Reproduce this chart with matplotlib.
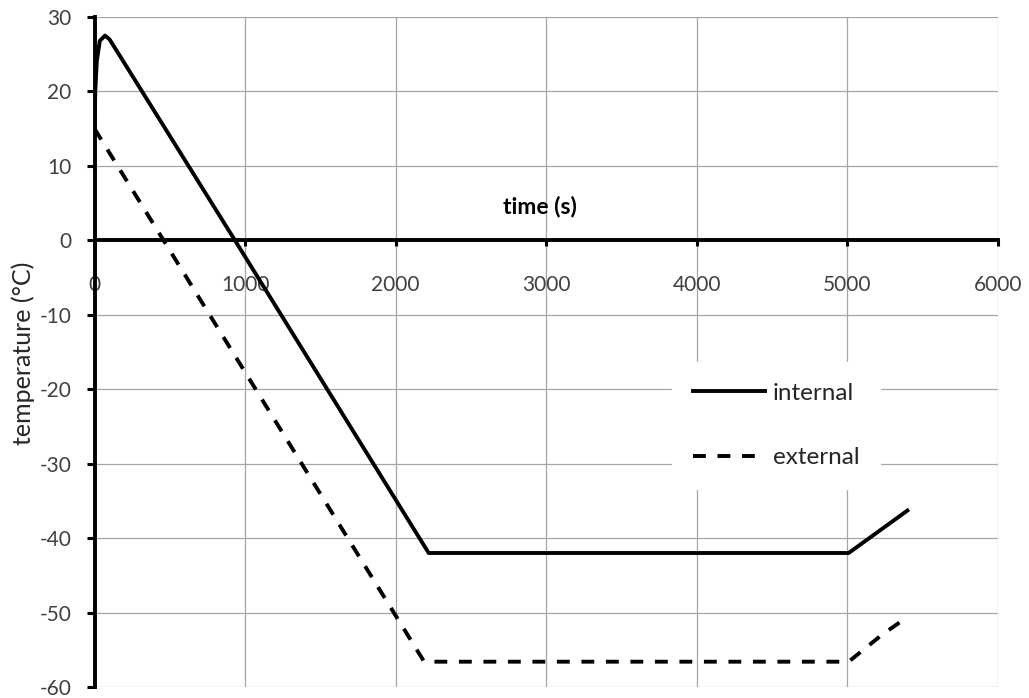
import matplotlib
matplotlib.use("Agg")
import matplotlib.pyplot as plt

plt.rcParams["font.family"] = ["Lato", "DejaVu Sans"]
plt.rcParams["axes.unicode_minus"] = False

# --- données ---
internal_t = [0, 5, 15, 35, 70, 100, 933, 2220, 5010, 5400]
internal_T = [15, 20, 24, 26.8, 27.5, 27.0, 0, -42, -42, -36.3]

external_t = [0, 2190, 5010, 5230, 5400]
external_T = [15, -56.6, -56.6, -53.0, -50.6]

x_ticks = [0, 1000, 2000, 3000, 4000, 5000, 6000]
y_ticks = [30, 20, 10, 0, -10, -20, -30, -40, -50, -60]

W, H = 1029, 698
fig = plt.figure(figsize=(W / 100, H / 100), dpi=100)
ax = fig.add_axes([94.5 / W, 11 / H, (997.7 - 94.5) / W, (687 - 17) / H])

LW = 2.8
ax.plot(internal_t, internal_T, color="black", lw=LW, label="internal",
        solid_joinstyle="round", zorder=3)
ax.plot(external_t, external_T, color="black", lw=LW, ls=(0, (3.3, 3.0)),
        label="external", zorder=3)

ax.set_xlim(0, 6000)
ax.set_ylim(-60, 30)
ax.set_xticks(x_ticks)
ax.set_yticks(y_ticks)
ax.grid(True, color="#a6a6a6", lw=0.9)
ax.set_axisbelow(True)

# axes façon Excel : axe x à y=0
for s in ("top", "right"):
    ax.spines[s].set_visible(False)
ax.spines["bottom"].set_position(("data", 0))
ax.spines["bottom"].set_linewidth(LW)
ax.spines["left"].set_linewidth(LW)
ax.spines["bottom"].set_zorder(2)

ax.tick_params(axis="x", direction="out", length=4, width=2.2, pad=21,
               labelsize=15, labelcolor="#404040")
ax.tick_params(axis="y", direction="out", length=5.5, width=2.2, pad=11,
               labelsize=15, labelcolor="#404040")

ax.text(2960, 4.5, "time (s)", ha="center", va="center", fontsize=16.5,
        fontweight="bold", color="black")
fig.text(23 / W, 1 - 353 / H, "temperature (°C)", rotation=90, ha="center",
         va="center", fontsize=18, color="#262626")

leg = ax.legend(loc="center", bbox_to_anchor=(776 / W, 1 - 425.5 / H),
                bbox_transform=fig.transFigure, frameon=True, fontsize=17.5,
                handlelength=3.0, handletextpad=0.3, labelspacing=1.8,
                borderpad=0.85, fancybox=False)
leg.get_frame().set_edgecolor("white")
leg.get_frame().set_facecolor("white")
leg.get_frame().set_alpha(1)
for t in leg.get_texts():
    t.set_color("#262626")

fig.savefig("out.png", dpi=100)
